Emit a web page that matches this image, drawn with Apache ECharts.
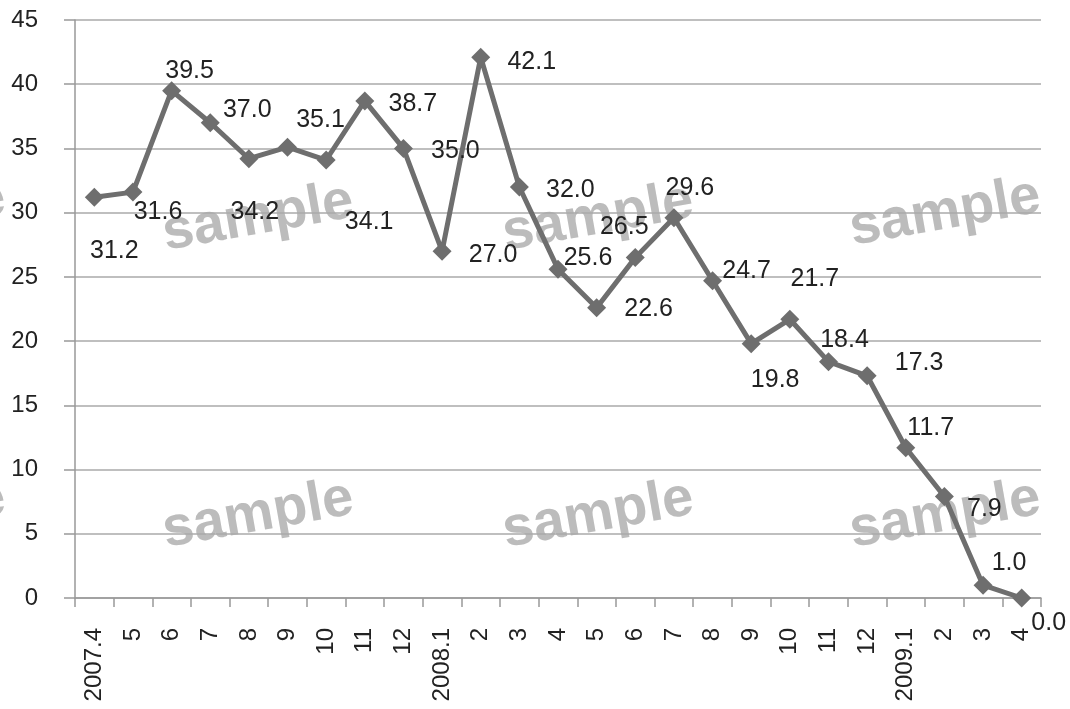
<!DOCTYPE html>
<html><head><meta charset="utf-8">
<script src="https://cdn.jsdelivr.net/npm/echarts@6/dist/echarts.min.js"></script>
<style>html,body{margin:0;padding:0;background:#fff}#c{width:1070px;height:709px}</style>
</head><body><div id="c"></div>
<script>
const categories = ['2007.4','5','6','7','8','9','10','11','12','2008.1','2','3','4','5','6','7','8','9','10','11','12','2009.1','2','3','4'];
const values = [31.2,31.6,39.5,37.0,34.2,35.1,34.1,38.7,35.0,27.0,42.1,32.0,25.6,22.6,26.5,29.6,24.7,19.8,21.7,18.4,17.3,11.7,7.9,1.0,0.0];
const yTicks = {min:0, max:45, interval:5};
// label placement offsets (px) relative to each point
const labelOffsets = [[20,54],[25,20],[18,-20],[37,-13],[6,53],[33,-27],[43,62],[48,3],[52,3],[51,4],[51,5],[51,3],[30,-11],[52,1],[-11,-31],[16,-30],[34,-10],[24,36],[25,-40],[16,-22],[52,-13],[25,-20],[40,13],[26,-22],[27,25]];

const chart = echarts.init(document.getElementById('c'));
const font = '"Liberation Sans", Arial, sans-serif';
const wm = (x,y) => ({type:'text', x:x, y:y, rotation: 10*Math.PI/180, z:-1, zlevel:0,
  style:{text:'sample', fill:'rgba(160,160,160,0.7)', font:'bold 56px ' + font, textAlign:'center', textVerticalAlign:'middle'}});
chart.setOption({
  animation:false,
  backgroundColor:'#fff',
  grid:{left:75, right:29, top:20, bottom:111},
  xAxis:{type:'category', data:categories, boundaryGap:true,
    axisLine:{lineStyle:{color:'#999', width:1.5}},
    axisTick:{show:true, length:9, interval:0, lineStyle:{color:'#999', width:1.5}},
    axisLabel:{interval:0, rotate:90, margin:30, fontSize:24, color:'#222', fontFamily:font}},
  yAxis:{type:'value', min:yTicks.min, max:yTicks.max, interval:yTicks.interval,
    axisLine:{show:true, lineStyle:{color:'#999', width:1.5}},
    axisTick:{show:true, length:11, lineStyle:{color:'#999', width:1.5}},
    axisLabel:{margin:37, fontSize:24, color:'#222', fontFamily:font},
    splitLine:{lineStyle:{color:'#aaa', width:1.5}}},
  graphic: [wm(258,218), wm(598,218), wm(945,213), wm(258,515), wm(598,515), wm(945,515), wm(-90,215), wm(-90,515)],
  series:[{type:'line', data: values.map((v,i)=>({value:v, label:{offset:labelOffsets[i]}})),
    lineStyle:{color:'#6e6e6e', width:5},
    itemStyle:{color:'#6e6e6e'},
    symbol:'diamond', symbolSize:19, z:5,
    label:{show:true, position:'inside', fontSize:25, color:'#222', fontFamily:font,
      formatter: p => p.value.toFixed(1)}}]
});
</script></body></html>
